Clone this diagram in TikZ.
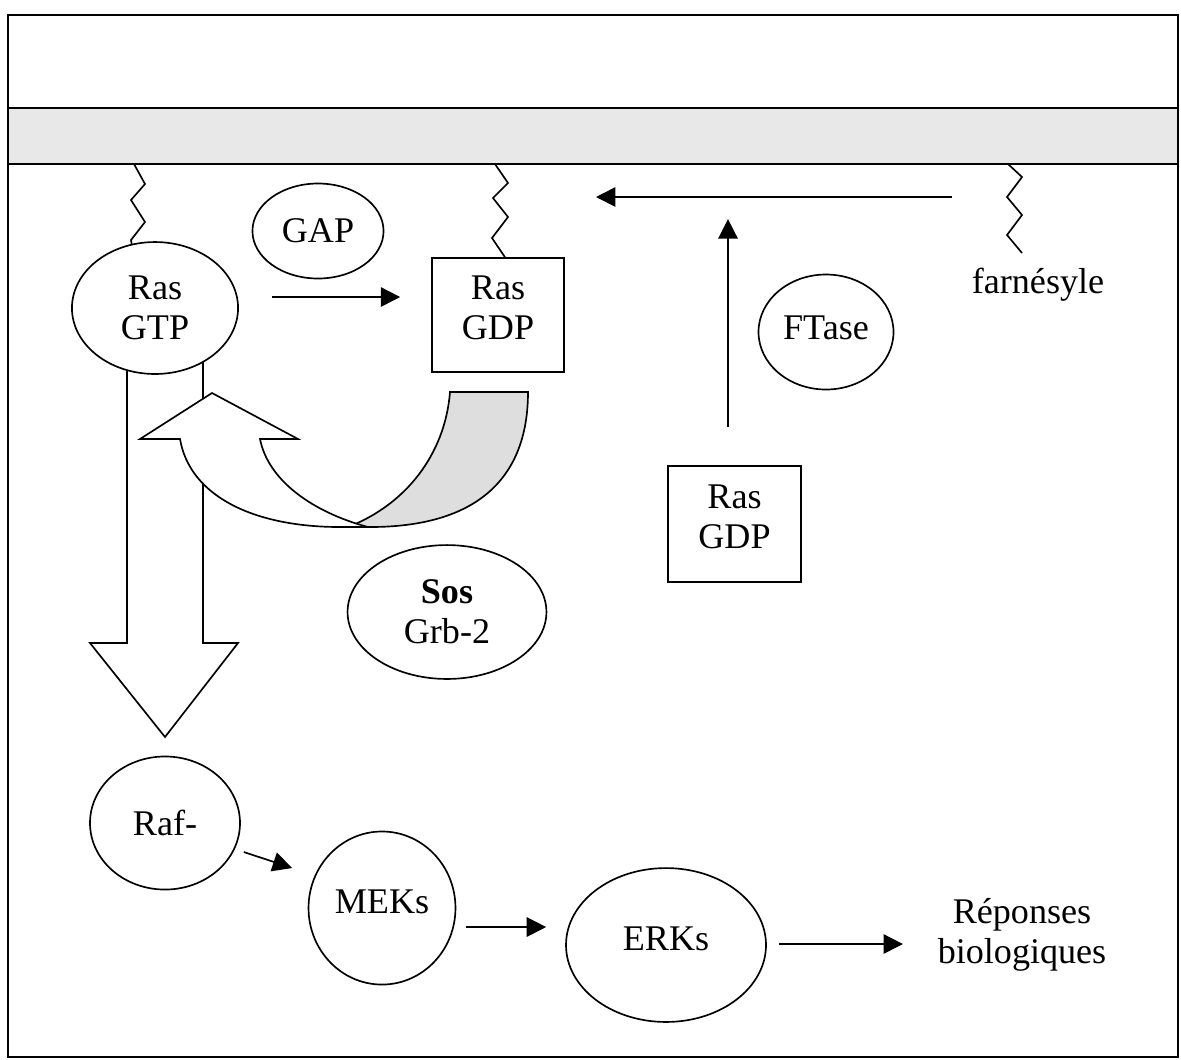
\documentclass[tikz,border=0pt]{standalone}
\usepackage{fontspec}
\setmainfont{Liberation Serif}
\usepackage{tikz}
\usetikzlibrary{calc,arrows.meta,shapes.geometric}
\definecolor{membranegray}{RGB}{232,232,232}
\definecolor{ribbongray}{RGB}{222,222,222}
\tikzset{protell/.style={ellipse, draw, fill=white, line width=0.6pt,
  inner sep=0pt, align=center}}
\tikzset{protbox/.style={rectangle, draw, fill=white, line width=0.6pt,
  inner sep=0pt, align=center}}
\tikzset{flow/.style={-{Triangle[length=7pt,width=7pt]}, line width=0.6pt}}
\tikzset{ruban/.style={draw, line width=0.6pt, line join=miter}}
\tikzset{lipide/.style={line width=0.6pt}}

\begin{document}
\begin{tikzpicture}[x=0.36pt, y=-0.36pt, font=\fontsize{13}{14.4}\selectfont]
  \useasboundingbox (0,0) rectangle (1181,1059);
  \fill[membranegray] (8,108) rectangle (1178,164);
  \draw[line width=0.7pt] (8,15) rectangle (1178,1057);
  \draw[line width=0.7pt] (8,108) -- (1178,108);
  \draw[line width=0.7pt] (8,164) -- (1178,164);

  \draw[ruban, fill=white] (127,350) -- (127,643) -- (90,643) -- (165,737)
    -- (238,643) -- (203,643) -- (203,350);

  \node[protell, minimum width=59.8pt, minimum height=47.5pt] (rasgtp) at (155,308) {Ras\\GTP};
  \node[protell, minimum width=47.2pt, minimum height=34.2pt] (gap) at (318,231) {GAP};
  \node[protbox, minimum width=47.5pt, minimum height=41pt, text depth=5pt] (rasgdp) at (498,315) {Ras\\GDP};
  \node[protell, minimum width=48.6pt, minimum height=41.4pt, text depth=3pt] (ftase) at (826,332) {FTase};
  \node (farn) at (1038,285) {farnésyle};
  \node[protbox, minimum width=47.9pt, minimum height=41.8pt, text depth=5pt] (rasgdpb) at (734.5,524) {Ras\\GDP};
  \node[protell, minimum width=71.6pt, minimum height=48.2pt] (sos) at (447,612) {\textbf{Sos}\\Grb-2};
  \node[protell, minimum width=54pt, minimum height=47.9pt] (raf) at (165,823) {Raf-};
  \node[protell, minimum width=52.9pt, minimum height=55.1pt, text depth=4.3pt] (meks) at (382,908) {MEKs};
  \node[protell, minimum width=72pt, minimum height=55.4pt, text depth=4.3pt] (erks) at (666,945) {ERKs};
  \node[align=center] (rep) at (1022,935) {Réponses\\biologiques};

  \coordinate (ancre1) at (134,164);
  \coordinate (ancre2) at (495,164);
  \coordinate (ancre3) at (1008,164);
  \draw[lipide] (ancre1) -- ++(11,20) -- ++(-14,16) -- ++(14,22) -- ++(-14,18) -- (rasgtp.110);
  \draw[lipide] (ancre2) -- ++(13,19) -- ++(-15,15) -- ++(15,19) -- ++(-16,21) -- ($(rasgdp.north)+(7,0)$);
  \draw[lipide] (ancre3) -- ++(14,13) -- ++(-15,20) -- ++(15,18) -- ++(-15,20) -- ++(15,18);

  \draw[ruban, fill=ribbongray] (450,392) -- (528,392) .. controls (528,480) and (475,527) .. (370,527)
    -- (348,527) .. controls (405,505) and (445,455) .. (450,392) -- cycle;
  \draw[ruban, fill=white] (180,439) .. controls (190,497) and (255,527) .. (340,527) -- (368,527)
    .. controls (312,512) and (268,480) .. (260,439) -- (298,439) -- (212,393) -- (140,439) -- cycle;

  \coordinate (depart) at (952,197);
  \coordinate (arrivee) at (596,197);
  \draw[flow] (depart) -- (arrivee);
  \draw[flow] ($(rasgdpb.north)+(-6.5,-38)$) -- ($(rasgdpb.north)+(-6.5,-246)$);
  \draw[flow] ($(rasgtp.east)+(33,-11)$) -- ($(rasgdp.west)+(-31,-18)$);
  \draw[flow] ($(raf.east)+(3,29)$) -- ($(meks.west)+(-15.5,-40)$);
  \draw[flow] ($(meks.east)+(9.5,19)$) -- ($(erks.west)+(-19,-18)$);
  \draw[flow] ($(erks.east)+(12,-1)$) -- ($(rep.west)+(-25,9)$);
\end{tikzpicture}
\end{document}
